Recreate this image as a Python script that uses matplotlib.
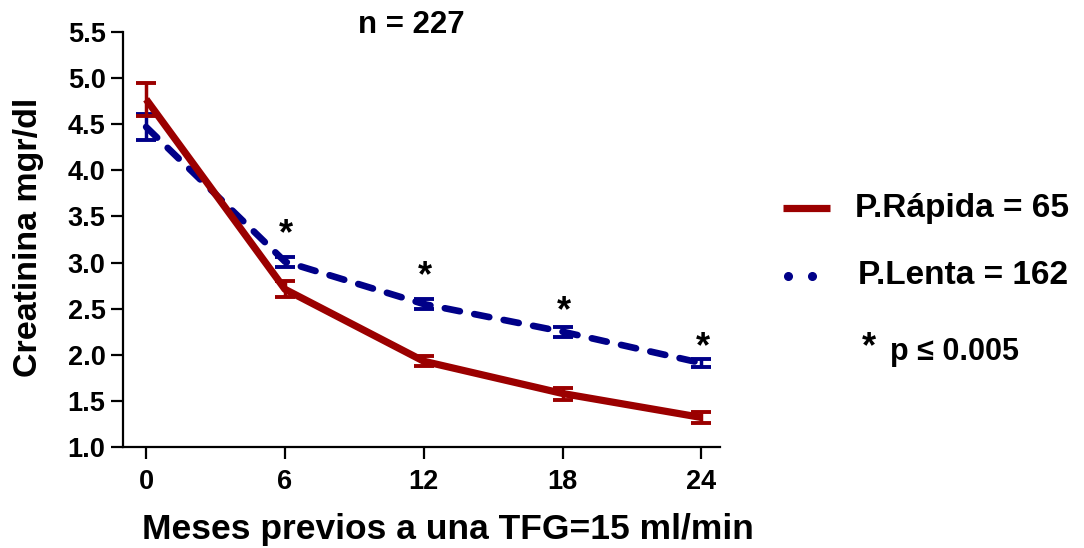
import matplotlib.pyplot as plt
from matplotlib.lines import Line2D

meses = [0, 6, 12, 18, 24]
rapida = [4.77, 2.71, 1.93, 1.58, 1.32]
rapida_err = [0.18, 0.085, 0.055, 0.065, 0.055]
lenta = [4.47, 3.01, 2.55, 2.25, 1.91]
lenta_err = [0.145, 0.055, 0.055, 0.055, 0.045]
asterisco_x = [6, 12, 18, 24]
asterisco_y = [3.35, 2.89, 2.52, 2.13]
xticks = [0, 6, 12, 18, 24]
yticks = [1.0, 1.5, 2.0, 2.5, 3.0, 3.5, 4.0, 4.5, 5.0, 5.5]

rojo = '#9b0000'
azul = '#000088'

plt.rcParams['font.family'] = ['Liberation Sans', 'DejaVu Sans']
plt.rcParams['font.weight'] = 'bold'

fig = plt.figure(figsize=(10.84, 5.48), dpi=100)
ax = fig.add_axes([123 / 1084, 1 - 447 / 548, (720 - 123) / 1084, (447 - 32) / 548])

# serie lenta (azul, discontinua)
ax.plot(meses, lenta, color=azul, lw=4.8, dashes=(2.3, 2.2),
        dash_capstyle='round', zorder=2)
ax.errorbar(meses, lenta, yerr=lenta_err, fmt='none', ecolor=azul,
            elinewidth=2.5, capsize=7, capthick=2.8, zorder=3)

# serie rapida (roja, continua)
ax.plot(meses, rapida, color=rojo, lw=5.2, solid_capstyle='butt', zorder=4)
ax.errorbar(meses, rapida, yerr=rapida_err, fmt='none', ecolor=rojo,
            elinewidth=2.5, capsize=7, capthick=2.8, zorder=5)

# asteriscos de significancia (y = centro del asterisco)
for x, y in zip(asterisco_x, asterisco_y):
    ax.annotate('*', xy=(x, y), xytext=(1, -10), textcoords='offset points',
                ha='center', va='baseline', fontsize=26, color='black')

ax.set_xlim(-1.0, 24.8)
ax.set_ylim(1.0, 5.5)
ax.set_xticks(xticks)
ax.set_yticks(yticks)
ax.set_yticklabels([f'{v:.1f}' for v in yticks])
ax.spines['top'].set_visible(False)
ax.spines['right'].set_visible(False)
for s in ['left', 'bottom']:
    ax.spines[s].set_linewidth(1.6)
ax.tick_params(direction='out', length=8.6, width=1.6, labelsize=19.5)
ax.tick_params(axis='x', pad=7)
ax.tick_params(axis='y', pad=4)
for lab in ax.get_xticklabels() + ax.get_yticklabels():
    lab.set_fontweight('bold')

ax.set_ylabel('Creatinina mgr/dl', fontsize=24.5, fontweight='bold', va='center')
ax.yaxis.set_label_coords(-0.159, 0.505)
ax.set_xlabel('Meses previos a una TFG=15 ml/min', fontsize=25.5,
              fontweight='bold', va='center')
ax.xaxis.set_label_coords(0.5436, -0.2)
fig.text(411 / 1084, 1 - 25 / 548, 'n = 227', ha='center', va='center',
         fontsize=22.5, fontweight='bold')

# leyenda manual
fig.add_artist(Line2D([783 / 1084, 830 / 1084], [1 - 208 / 548] * 2,
                      color=rojo, lw=5.2, solid_capstyle='butt'))
fig.add_artist(Line2D([788 / 1084, 812 / 1084], [1 - 276 / 548] * 2,
                      color=azul, lw=0, marker='o', markersize=5.5))
fig.text(855 / 1084, 1 - 208 / 548, 'P.Rápida = 65', ha='left', va='center',
         fontsize=24, fontweight='bold')
fig.text(858 / 1084, 1 - 276 / 548, 'P.Lenta = 162', ha='left', va='center',
         fontsize=24, fontweight='bold')
fig.text(862 / 1084, 1 - 348 / 548, '*', ha='left', va='center',
         fontsize=26, fontweight='bold')
fig.text(890 / 1084, 1 - 352 / 548, 'p ≤ 0.005', ha='left', va='center',
         fontsize=22, fontweight='bold')

fig.savefig('out.png', dpi=100)
